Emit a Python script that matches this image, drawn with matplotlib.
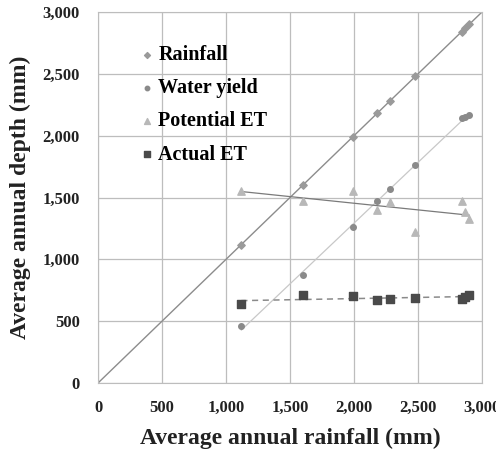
import matplotlib.pyplot as plt
import numpy as np

# Average annual rainfall for each site (mm)
rainfall = [1120, 1600, 1990, 2180, 2280, 2480, 2840, 2870, 2900]
water_yield = [460, 870, 1260, 1470, 1570, 1765, 2140, 2150, 2170]
potential_et = [1555, 1475, 1555, 1395, 1460, 1220, 1470, 1380, 1330]
actual_et = [640, 708, 705, 675, 678, 688, 682, 698, 712]
ticks = [0, 500, 1000, 1500, 2000, 2500, 3000]

plt.rcParams["font.family"] = ["Liberation Serif", "DejaVu Serif"]
plt.rcParams["font.weight"] = "bold"

fig = plt.figure(figsize=(4.96, 4.53), dpi=100)
ax = fig.add_axes([0.1976, 0.1545, 0.7742, 0.819])

x = np.array(rainfall)
xs = np.array([min(rainfall), max(rainfall)])

# 1:1 line for rainfall
ax.plot([0, 3000], [0, 3000], color="#8c8c8c", lw=1.0, zorder=2)

# linear trend lines
p = np.polyfit(x, water_yield, 1)
ax.plot(xs, np.polyval(p, xs), color="#c8c8c8", lw=0.9, zorder=2)
p = np.polyfit(x, potential_et, 1)
ax.plot(xs, np.polyval(p, xs), color="#7a7a7a", lw=0.9, zorder=2)
p = np.polyfit(x, actual_et, 1)
ax.plot(xs, np.polyval(p, xs), color="#8a8a8a", lw=1.1, ls=(0, (4, 3)), zorder=2)

ax.scatter(rainfall, rainfall, marker="D", s=14, color="#9a9a9a", label="Rainfall", zorder=3)
ax.scatter(rainfall, water_yield, marker="o", s=16, color="#8a8a8a", label="Water yield", zorder=3)
ax.scatter(rainfall, potential_et, marker="^", s=28, color="#b8b8b8", label="Potential ET", zorder=3)
ax.scatter(rainfall, actual_et, marker="s", s=26, color="#4a4a4a", label="Actual ET", zorder=3)

ax.set_xlim(0, 3000)
ax.set_ylim(0, 3000)
ax.set_xticks(ticks)
ax.set_yticks(ticks)
ax.set_xticklabels([f"{t:,}" for t in ticks])
ax.set_yticklabels([f"{t:,}" for t in ticks])
ax.tick_params(length=0, labelsize=12, colors="#222222")
ax.tick_params(axis="y", pad=13)
ax.tick_params(axis="x", pad=12)
ax.grid(True, color="#bdbdbd", lw=0.9)
ax.set_axisbelow(True)
for s in ax.spines.values():
    s.set_color("#bdbdbd")

ax.set_xlabel("Average annual rainfall (mm)", fontsize=17, fontweight="bold", labelpad=9, color="#222222")
ax.set_ylabel("Average annual depth (mm)", fontsize=17, fontweight="bold", labelpad=8, color="#222222")

leg = ax.legend(loc="upper left", bbox_to_anchor=(0.086, 0.932), frameon=False,
                handletextpad=0.15, labelspacing=0.65, handlelength=0.8,
                borderaxespad=0, markerscale=0.8,
                prop={"weight": "bold", "size": 14.5})

fig.savefig("out.png", dpi=100)
